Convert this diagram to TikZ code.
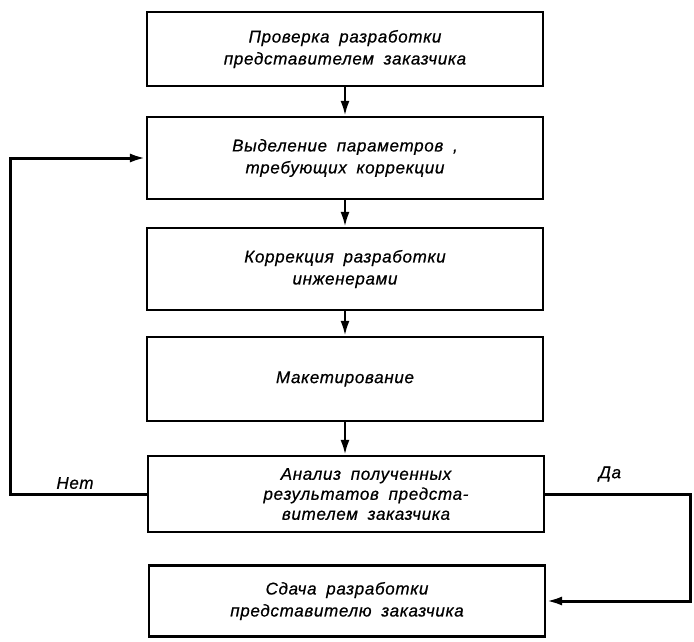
\documentclass[tikz,border=0pt]{standalone}
\usepackage{fontspec}
\newfontfamily\gost{Liberation Sans}[UprightFont=* Italic, LetterSpace=4, WordSpace=1.8, FakeBold=0.6]
\usetikzlibrary{arrows.meta}

\begin{document}
\begin{tikzpicture}[x=1pt, y=-1pt,
  blk/.style={draw, line width=2.2pt, minimum width=396pt, inner sep=0pt,
              align=center, font=\gost\fontsize{17}{22}\selectfont},
  lbl/.style={font=\gost\fontsize{17}{22}\selectfont, inner sep=0pt},
  flow/.style={line width=2.6pt, -{Latex[length=15pt, width=9pt]}},
  back/.style={line width=3pt, -{Latex[length=16pt, width=9pt]}}]

  % page frame
  \fill[white] (0,0) rectangle (694,641);
  \useasboundingbox (0,0) rectangle (694,641);

  % process steps
  \node[blk, minimum height=74pt] (b1) at (345,49)
    {Проверка разработки\\представителем заказчика};
  \node[blk, minimum height=82pt] (b2) at (345,158)
    {Выделение параметров ,\\требующих коррекции};
  \node[blk, minimum height=82pt] (b3) at (345,269)
    {Коррекция разработки\\инженерами};
  \node[blk, minimum height=84pt] (b4) at (345,379)
    {Макетирование};
  \node[blk, minimum height=76pt, font=\gost\fontsize{17}{20}\selectfont] (b5) at (346,494)
    {\hspace*{40pt}Анализ полученных\\
     \hspace*{40pt}результатов предста-\\
     \hspace*{40pt}вителем заказчика};
  \node[blk, minimum height=71pt] (b6) at (347,601)
    {Сдача разработки\\представителю заказчика};

  % main sequence
  \draw[flow] (b1.south) -- (b1.south |- b2.north);
  \draw[flow] (b2.south) -- (b2.south |- b3.north);
  \draw[flow] (b3.south) -- (b3.south |- b4.north);
  \draw[flow] (b4.south) -- (b4.south |- b5.north);

  % decision branches
  \coordinate (leftrail) at (10,0);
  \coordinate (rightrail) at (690,0);
  \draw[back] (b5.west) -- (b5.west -| leftrail) |- (b2.west);
  \draw[back] (b5.east) -- (b5.east -| rightrail) |- (b6.east);

  \node[lbl] (no) at (75,483) {Нет};
  \node[lbl] (yes) at (610,474) {Да};
\end{tikzpicture}
\end{document}
